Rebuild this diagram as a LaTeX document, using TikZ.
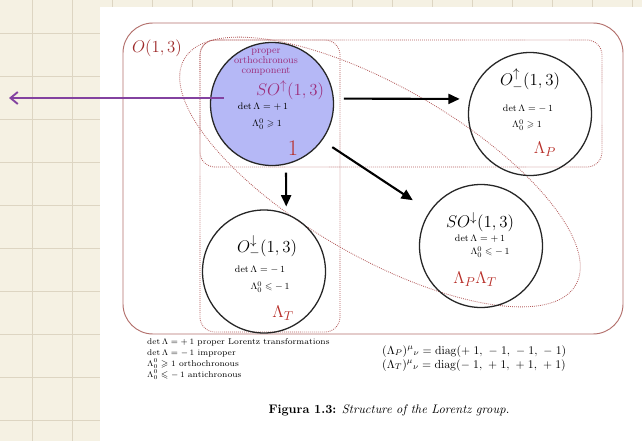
\documentclass[tikz,border=0pt]{standalone}
\usepackage{amsmath,amssymb}
\usetikzlibrary{arrows.meta}

\definecolor{paper}{HTML}{F5F1E3}
\definecolor{gridcol}{HTML}{DDD5C2}
\definecolor{outercol}{HTML}{B3706C}
\definecolor{dotcol}{HTML}{B45C5C}
\definecolor{tagred}{HTML}{B8302A}
\definecolor{darkred}{HTML}{9E2A2A}
\definecolor{compcol}{HTML}{9C2F7C}
\definecolor{compfill}{HTML}{B5B8F6}
\definecolor{penpurple}{HTML}{8342A0}

\begin{document}
\begin{tikzpicture}[x=0.03cm, y=-0.03cm,
  comp/.style={draw=black!85, line width=1.1pt, circle, minimum size=3.69cm, inner sep=0pt},
  groupline/.style={draw=dotcol, densely dotted, line width=0.7pt},
  compname/.style={inner sep=0pt, font=\fontsize{15}{17}\selectfont},
  cond/.style={inner sep=0pt, font=\fontsize{8}{9}\selectfont},
  tag/.style={inner sep=0pt, text=tagred, font=\fontsize{15}{17}\selectfont},
  arr/.style={line width=1.8pt, -{Triangle[length=3.4mm, width=3mm]}},
  small/.style={inner sep=0pt, align=left, font=\fontsize{7.2}{9.4}\selectfont}]
  \useasboundingbox (0,0) rectangle (642,441);

  % notebook paper behind the page
  \fill[paper] (0,0) rectangle (642,441);
  \foreach \x in {32,72,...,632}
    \draw[gridcol, line width=0.6pt] (\x,0) -- (\x,441);
  \foreach \y in {33,76,...,420}
    \draw[gridcol, line width=0.6pt] (0,\y) -- (642,\y);
  \fill[white] (100,7) rectangle (642,441);

  % the whole group and its subsets
  \draw[outercol, line width=0.8pt, rounded corners=0.9cm] (123,23) rectangle (623,334);
  \node[inner sep=0pt, text=darkred, font=\fontsize{15.5}{17}\selectfont] (O13) at (157,48) {$O(1,3)$};
  \draw[groupline, rounded corners=0.45cm] (200,40) rectangle (602,167);
  \draw[groupline, rounded corners=0.45cm] (200,40) rectangle (340,332);
  \coordinate (diag) at (380,172);
  \draw[groupline, rotate around={-30:(diag)}] (diag) ellipse [x radius=226, y radius=85];

  % the four components
  \node[comp, fill=compfill] (SOup) at (272,104) {};
  \node[comp] (Oup) at (530,114) {};
  \node[comp] (Odown) at (264,271.5) {};
  \node[comp] (SOdown) at (481,246) {};

  \node[inner sep=0pt, align=center, text=compcol, font=\fontsize{8.5}{8.6}\selectfont]
    (SOupnote) at ([shift={(-6,-42)}]SOup.center) {proper\\orthochronous\\component};
  \node[compname, text=compcol] (SOupname) at ([shift={(18,-14)}]SOup.center) {$SO^{\uparrow}(1,3)$};
  \node[cond] (SOupdet) at ([shift={(-9,3)}]SOup.center) {$\det\Lambda = +\,1$};
  \node[cond] (SOupl) at ([shift={(-5,20)}]SOup.center) {$\Lambda^{0}_{0} \geqslant 1$};
  \node[tag, font=\fontsize{19}{20}\selectfont] (SOuptag) at ([shift={(21,44)}]SOup.center) {1};

  \node[compname] (Oupname) at ([shift={(0,-34)}]Oup.center) {$O^{\uparrow}_{-}(1,3)$};
  \node[cond] (Oupdet) at ([shift={(-2,-5)}]Oup.center) {$\det\Lambda = -\,1$};
  \node[cond] (Oupl) at ([shift={(-3,11)}]Oup.center) {$\Lambda^{0}_{0} \geqslant 1$};
  \node[tag] (Ouptag) at ([shift={(15,35)}]Oup.center) {$\Lambda_P$};

  \node[compname] (Odownname) at ([shift={(3,-25)}]Odown.center) {$O^{\downarrow}_{-}(1,3)$};
  \node[cond] (Odowndet) at ([shift={(-4,-2)}]Odown.center) {$\det\Lambda = -\,1$};
  \node[cond] (Odownl) at ([shift={(6,15.5)}]Odown.center) {$\Lambda^{0}_{0} \leqslant -\,1$};
  \node[tag] (Odowntag) at ([shift={(19,41.5)}]Odown.center) {$\Lambda_T$};

  \node[compname] (SOdownname) at ([shift={(-1,-24)}]SOdown.center) {$SO^{\downarrow}(1,3)$};
  \node[cond] (SOdowndet) at ([shift={(-1,-7)}]SOdown.center) {$\det\Lambda = +\,1$};
  \node[cond] (SOdownl) at ([shift={(9,6)}]SOdown.center) {$\Lambda^{0}_{0} \leqslant -\,1$};
  \node[tag] (SOdowntag) at ([shift={(-6,33)}]SOdown.center) {$\Lambda_P\Lambda_T$};

  % arrows out of the identity component
  \draw[arr, shorten <=3mm, shorten >=3mm] (SOup.5) -- (Oup.166);
  \draw[arr, shorten <=2.4mm, shorten >=2.1mm] (SOup.-77) -- (Odown.69);
  \draw[arr, shorten <=3.6mm, shorten >=6mm] (SOup.-36) -- (SOdown.146);

  % pen mark pointing off the page
  \coordinate (pen) at (9,98);
  \draw[penpurple, line width=1.6pt, -{Straight Barb[length=2.2mm, width=3.6mm]}]
    ([shift={(14,-6)}]SOup.west) -- (pen);

  % legend and caption
  \node[small, anchor=north west] (key) at (147,338) {%
    $\det\Lambda = +\,1$ proper Lorentz transformations\\
    $\det\Lambda = -\,1$ improper\\
    $\Lambda^{0}_{0} \geqslant 1$ orthochronous\\
    $\Lambda^{0}_{0} \leqslant -\,1$ antichronous};
  \node[small, anchor=north west, font=\fontsize{10.2}{12}\selectfont] (diags) at (382,345) {%
    $(\Lambda_P)^{\mu}{}_{\nu} = \mathrm{diag}(+\;1,\ -\;1,\ -\;1,\ -\;1)$\\
    $(\Lambda_T)^{\mu}{}_{\nu} = \mathrm{diag}(-\;1,\ +\;1,\ +\;1,\ +\;1)$};
  \node[inner sep=0pt, font=\fontsize{10.6}{12}\selectfont] (caption) at (389,410)
    {\textbf{Figura 1.3:} \textit{Structure of the Lorentz group.}};
\end{tikzpicture}
\end{document}
